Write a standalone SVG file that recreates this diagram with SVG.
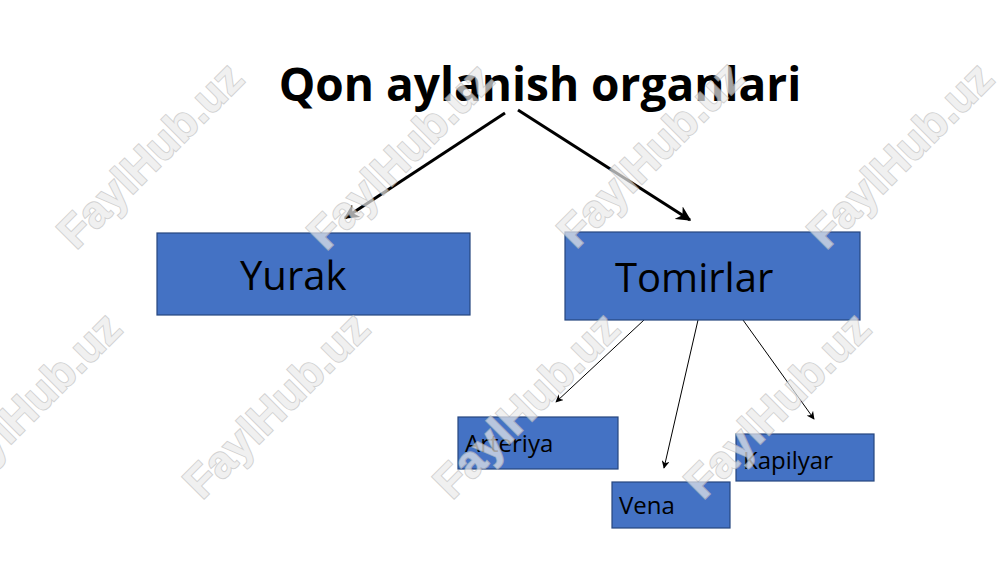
<svg xmlns="http://www.w3.org/2000/svg" width="1000" height="562" viewBox="0 0 1000 562">
<defs>
<style>
.box{fill:#4472C4;stroke:#26467F;stroke-width:1.2}
.lbl{font-family:"Open Sans","Noto Sans","Liberation Sans",sans-serif;fill:#000}
.thick{stroke:#000;stroke-width:3;fill:none}
.thin{stroke:#000;stroke-width:1;fill:none}
.wm{font-family:"Liberation Sans","Open Sans",sans-serif;font-weight:bold;font-size:45px;fill:#eaeaea;stroke:#c0c0c0;stroke-width:2;paint-order:stroke;opacity:0.7;text-anchor:middle;dominant-baseline:central}
</style>
<marker id="ah" viewBox="0 0 10 10" refX="9" refY="5" markerWidth="5" markerHeight="5" orient="auto" markerUnits="strokeWidth">
<path d="M0,0 L10,5 L0,10 L3,5 Z" fill="#000"/>
</marker>
<marker id="ah2" viewBox="0 0 10 10" refX="9" refY="5" markerWidth="8" markerHeight="8" orient="auto" markerUnits="strokeWidth">
<path d="M0,0 L10,5 L0,10 L3,5 Z" fill="#000"/>
</marker>
</defs>
<rect width="1000" height="562" fill="#fff"/>
<g id="title">
<text class="lbl" x="540" y="101" font-size="46" font-weight="bold" text-anchor="middle">Qon aylanish organlari</text>
</g>
<g id="connectors">
<line class="thick" x1="505" y1="113" x2="345" y2="218" marker-end="url(#ah)"/>
<line class="thick" x1="518" y1="110" x2="690" y2="220" marker-end="url(#ah)"/>
<line class="thin" x1="644" y1="320" x2="556" y2="402" marker-end="url(#ah2)"/>
<line class="thin" x1="698" y1="320" x2="664" y2="468" marker-end="url(#ah2)"/>
<line class="thin" x1="743" y1="320" x2="814" y2="419" marker-end="url(#ah2)"/>
</g>
<g id="yurak">
<rect class="box" x="157" y="233" width="313" height="82"/>
<text class="lbl" x="240" y="290" font-size="40">Yurak</text>
</g>
<g id="tomirlar">
<rect class="box" x="565" y="232" width="295" height="88"/>
<text class="lbl" x="615" y="292" font-size="40">Tomirlar</text>
</g>
<g id="arteriya">
<rect class="box" x="458" y="417" width="160" height="52"/>
<text class="lbl" x="465" y="452" font-size="24">Arteriya</text>
</g>
<g id="vena">
<rect class="box" x="612" y="482" width="118" height="46"/>
<text class="lbl" x="619" y="514" font-size="24">Vena</text>
</g>
<g id="kapilyar">
<rect class="box" x="736" y="434" width="138" height="47"/>
<text class="lbl" x="743" y="469" font-size="24">Kapilyar</text>
</g>
<g id="watermarks">
<text class="wm" transform="translate(150,155) rotate(-45)">FaylHub.uz</text>
<text class="wm" transform="translate(400,156) rotate(-45)">FaylHub.uz</text>
<text class="wm" transform="translate(650,154) rotate(-45)">FaylHub.uz</text>
<text class="wm" transform="translate(900,155) rotate(-45)">FaylHub.uz</text>
<text class="wm" transform="translate(28,405) rotate(-45)">FaylHub.uz</text>
<text class="wm" transform="translate(276,405) rotate(-45)">FaylHub.uz</text>
<text class="wm" transform="translate(526,405) rotate(-45)">FaylHub.uz</text>
<text class="wm" transform="translate(777,405) rotate(-45)">FaylHub.uz</text>
</g>
</svg>
